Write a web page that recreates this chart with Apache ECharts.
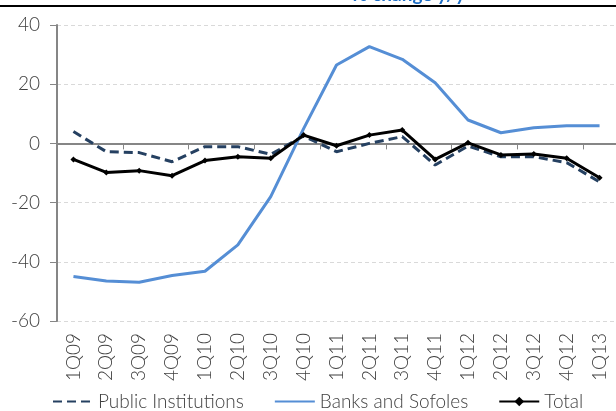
<!DOCTYPE html>
<html>
<head>
<meta charset="utf-8">
<script src="https://cdn.jsdelivr.net/npm/echarts@6/dist/echarts.min.js"></script>
<style>
  html, body { margin: 0; padding: 0; background: #fff; }
  #chart { width: 616px; height: 411px; }
</style>
</head>
<body>
<div id="chart"></div>
<script>
const quarters = ["1Q09", "2Q09", "3Q09", "4Q09", "1Q10", "2Q10", "3Q10", "4Q10",
  "1Q11", "2Q11", "3Q11", "4Q11", "1Q12", "2Q12", "3Q12", "4Q12", "1Q13"];
const publicInstitutions = [4, -2.8, -3.1, -6.2, -1.1, -1.1, -3.7, 2.5,
  -2.8, 0, 2.3, -7.3, -0.9, -4.5, -4.5, -6.5, -13];
const banksSofoles = [-45, -46.5, -46.9, -44.6, -43.2, -34.3, -18, 5,
  26.5, 32.7, 28.4, 20.5, 7.9, 3.6, 5.3, 6, 6];
const total = [-5.4, -9.8, -9.2, -10.9, -5.8, -4.5, -5, 2.8,
  -0.8, 2.8, 4.5, -5.4, 0.2, -3.9, -3.6, -5, -11.6];

const FONT = "Lato, 'Open Sans', sans-serif";
const TEXT = "#404040";
const AXIS = "#868686";

const chart = echarts.init(document.getElementById("chart"), null, { renderer: "canvas" });

chart.setOption({
  animation: false,
  textStyle: { fontFamily: FONT },
  title: {
    text: "% change y/y",
    left: 352,
    top: -15,
    padding: 0,
    textStyle: { color: "#1f6fc6", fontSize: 19, fontWeight: "bold", fontFamily: FONT },
  },
  graphic: [{
    type: "rect",
    shape: { x: 0, y: 5, width: 616, height: 2 },
    style: { fill: "#000" },
  }],
  grid: { left: 57, right: -4, top: 25, bottom: 90 },
  legend: {
    top: 392,
    left: 52,
    padding: 0,
    itemWidth: 40,
    itemHeight: 12,
    itemGap: 30,
    textStyle: { color: TEXT, fontSize: 19, fontFamily: FONT, fontWeight: 300 },
    data: [
      { name: "Public Institutions", itemStyle: { opacity: 0 } },
      { name: "Banks and Sofoles", itemStyle: { opacity: 0 } },
      { name: "Total" },
    ],
  },
  xAxis: [
    {
      type: "category",
      data: quarters,
      position: "bottom",
      axisLine: { show: false, onZero: false },
      axisTick: { show: false },
      axisLabel: {
        rotate: 90,
        margin: 12,
        color: TEXT,
        fontSize: 19,
        fontFamily: FONT,
        fontWeight: 300,
      },
    },
    {
      type: "category",
      data: quarters,
      position: "top",
      axisLine: { show: true, onZero: true, lineStyle: { color: AXIS, width: 2 } },
      axisTick: { show: true, inside: true, length: 6, lineStyle: { color: AXIS } },
      axisLabel: { show: false },
    },
  ],
  yAxis: {
    type: "value",
    min: -60,
    max: 40,
    interval: 20,
    axisLine: { show: true, onZero: false, lineStyle: { color: AXIS, width: 2 } },
    axisTick: { show: true, length: 7, lineStyle: { color: AXIS } },
    axisLabel: { color: TEXT, fontSize: 19, margin: 17, fontFamily: FONT, fontWeight: 300 },
    splitLine: { lineStyle: { color: "#d9d9d9", type: [4, 3], width: 1 } },
  },
  series: [
    {
      name: "Public Institutions",
      type: "line",
      data: publicInstitutions,
      symbol: "none",
      lineStyle: { color: "#254061", width: 3, type: [9, 5] },
      itemStyle: { color: "#254061" },
    },
    {
      name: "Banks and Sofoles",
      type: "line",
      data: banksSofoles,
      symbol: "none",
      lineStyle: { color: "#558ed5", width: 3 },
      itemStyle: { color: "#558ed5" },
    },
    {
      name: "Total",
      type: "line",
      data: total,
      symbol: "diamond",
      symbolSize: 6,
      lineStyle: { color: "#000", width: 3 },
      itemStyle: { color: "#000" },
    },
  ],
});
</script>
</body>
</html>
